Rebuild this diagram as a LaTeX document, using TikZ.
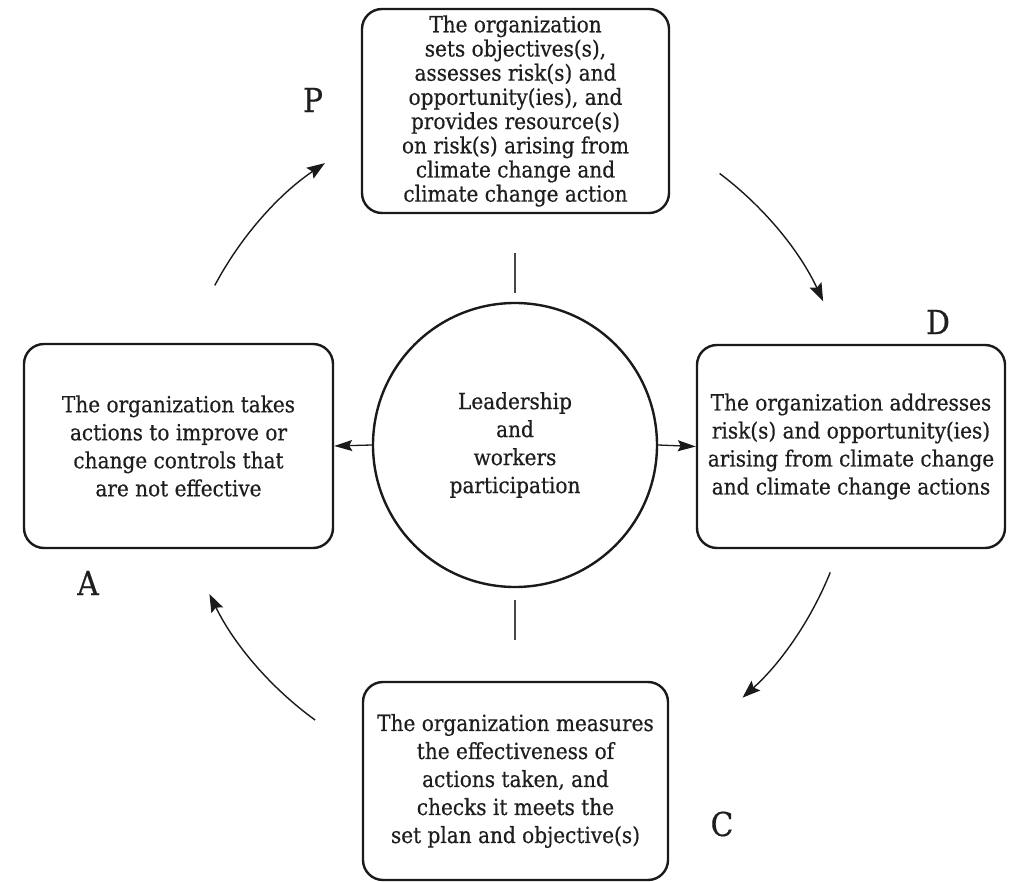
\documentclass[tikz,border=0pt]{standalone}
\usepackage{fontspec}
\setmainfont{DejaVu Serif Condensed}[FakeBold=0.5]
\usetikzlibrary{arrows.meta,calc}
\definecolor{txt}{HTML}{1E1E1E}
\definecolor{lin}{HTML}{1A1A1A}
\begin{document}
\begin{tikzpicture}[x=1pt,y=1pt,
  box/.style={draw=lin, line width=2.4pt, rounded corners=20pt, align=center,
    inner sep=0pt, text=txt, font=\fontsize{22.3}{28}\selectfont},
  circ/.style={draw=lin, line width=2.4pt, circle, minimum size=284pt, inner sep=0pt,
    align=center, text=txt, font=\fontsize{22.3}{28}\selectfont},
  lbl/.style={text=txt, font=\fontsize{33}{36}\selectfont, inner sep=0pt},
  cyc/.style={draw=lin, line width=1.4pt, -{Stealth[length=18pt,width=13pt,inset=3pt]}},
  side/.style={draw=lin, line width=1.3pt, -{Stealth[length=18pt,width=11pt,inset=3pt]}},
  tick/.style={draw=lin!80, line width=1.5pt}]
\useasboundingbox (0,0) rectangle (1015,-882);

% central circle
\node[circ] (lead) at (515,-445) {Leadership\\and\\workers\\participation};

% boxes
\node[box, minimum width=307pt, minimum height=204pt,
  font=\fontsize{22.3}{24.2}\selectfont] (plan) at (515.5,-111)
  {The organization\\sets objectives(s),\\assesses risk(s) and\\opportunity(ies), and\\provides resource(s)\\on risk(s) arising from\\climate change and\\climate change action};
\node[box, minimum width=308pt, minimum height=203pt] (do) at (851,-446.5)
  {The organization addresses\\risk(s) and opportunity(ies)\\arising from climate change\\and climate change actions};
\node[box, minimum width=309pt, minimum height=204pt] (act) at (178.5,-446)
  {The organization takes\\actions to improve or\\change controls that\\are not effective};
\node[box, minimum width=305pt, minimum height=198pt] (check) at (515.5,-781)
  {The organization measures\\the effectiveness of\\actions taken, and\\checks it meets the\\set plan and objective(s)};

% letters
\node[lbl] (P) at (313,-100) {P};
\node[lbl] (D) at (938,-322) {D};
\node[lbl] (A) at (88,-583) {A};
\node[lbl] (C) at (722,-824) {C};

% ticks above and below circle
\coordinate (t1) at (515,-253);
\coordinate (t2) at (515,-293);
\coordinate (b1) at (515,-600);
\coordinate (b2) at (515,-640);
\draw[tick] (t1) -- (t2);
\draw[tick] (b1) -- (b2);

% side arrows
\draw[side] (lead.west) -- (act.east);
\draw[side] (lead.east) -- (do.west);

% cycle arcs
\coordinate (O) at (515,-445);
\coordinate (ap) at ($(O)+(152:340pt)$);
\coordinate (pd) at ($(O)+(53:340pt)$);
\coordinate (dc) at ($(O)+(-22:340pt)$);
\coordinate (ca) at ($(O)+(-126:340pt)$);
\draw[cyc] (ap) arc[start angle=152, end angle=124, radius=340pt];
\draw[cyc] (pd) arc[start angle=53, end angle=25, radius=340pt];
\draw[cyc] (dc) arc[start angle=-22, end angle=-48, radius=340pt];
\draw[cyc] (ca) arc[start angle=-126, end angle=-154, radius=340pt];
\end{tikzpicture}
\end{document}
